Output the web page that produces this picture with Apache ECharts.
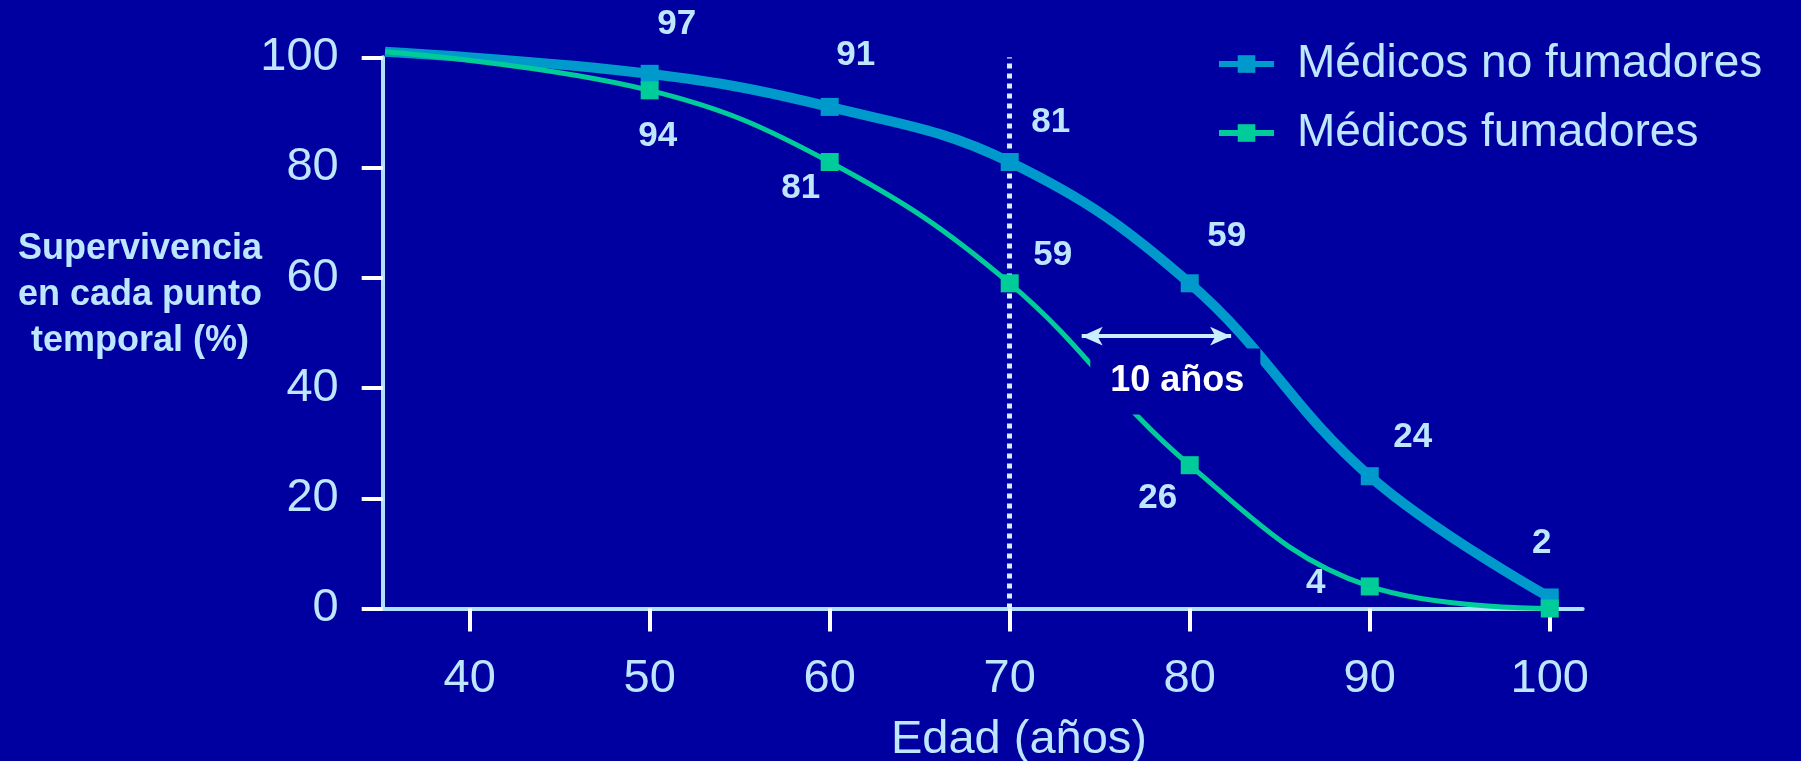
<!DOCTYPE html>
<html>
<head>
<meta charset="utf-8">
<script src="https://cdn.jsdelivr.net/npm/echarts@6/dist/echarts.min.js"></script>
<style>
  html, body { margin: 0; padding: 0; background: #0000A0; }
  #chart { width: 1801px; height: 761px; }
</style>
</head>
<body>
<div id="chart"></div>
<script>
// Supervivencia por edad: médicos no fumadores frente a fumadores
const edades = [50, 60, 70, 80, 90, 100];
const noFumadores = [97, 91, 81, 59, 24, 2];
const fumadores = [94, 81, 59, 26, 4, 0];
const origen = [35.3, 101];           // punto común de partida de ambas curvas
const edadTicks = [40, 50, 60, 70, 80, 90, 100];
const edadLimites = [35.17, 101.83];
const edadCorte = 70;                 // línea punteada vertical
const flechaDesde = [74.0, 49.4];
const flechaHasta = [82.3, 49.4];
const rotuloPos = [79.2, 41.2];
const rotuloTexto = '10 años';
const nombres = ['Médicos no fumadores', 'Médicos fumadores'];

// desplazamiento (px) de cada etiqueta respecto a su marcador
const offsetsNo = [[27, -49], [26, -52], [41, -40], [37, -47], [43, -39], [-8, -54]];
const offsetsSi = [[8, 46], [-29, 26], [43, -28], [-32, 33], [-54, -3], null];

const FONT = '"Liberation Sans", Arial, Helvetica, sans-serif';
const TEXT = '#BDE6FF';
const FONDO = '#0000A0';
const AZUL = '#0099CC';
const VERDE = '#00CC99';
const SUAVIZADO = 0.4;

function serie(valores, offsets) {
  const pts = [{ value: origen, symbol: 'none', label: { show: false } }];
  edades.forEach((e, i) => {
    const off = offsets[i];
    pts.push({
      value: [e, valores[i]],
      label: off ? { show: true, offset: off } : { show: false }
    });
  });
  return pts;
}

const etiquetaValor = {
  show: true,
  position: 'inside',
  formatter: p => String(p.value[1]),
  color: TEXT,
  fontFamily: FONT,
  fontWeight: 'bold',
  fontSize: 35
};

const chart = echarts.init(document.getElementById('chart'), null, { renderer: 'canvas' });

chart.setOption({
  backgroundColor: FONDO,
  animation: false,
  textStyle: { fontFamily: FONT },
  grid: { left: 382.7, right: 218.3, top: 57.3, bottom: 152.5, containLabel: false },
  legend: {
    orient: 'vertical',
    left: 1211,
    top: 36,
    padding: 5,
    itemWidth: 55,
    itemHeight: 22,
    itemGap: 23,
    data: nombres,
    lineStyle: { width: 6 },
    textStyle: { color: TEXT, fontSize: 46, fontFamily: FONT, padding: [0, 0, 0, 18] }
  },
  xAxis: {
    type: 'value',
    min: edadLimites[0],
    max: edadLimites[1],
    splitLine: { show: false },
    axisLine: { show: true, onZero: false, lineStyle: { color: '#B0E0FF', width: 4 } },
    axisTick: { show: true, customValues: edadTicks, length: 23, lineStyle: { color: '#FFFFFF', width: 4 } },
    axisLabel: { customValues: edadTicks, margin: 47, color: TEXT, fontSize: 47, fontFamily: FONT }
  },
  yAxis: {
    type: 'value',
    min: 0,
    max: 100,
    interval: 20,
    splitLine: { show: false },
    axisLine: { show: true, lineStyle: { color: '#B0E0FF', width: 4 } },
    axisTick: { show: true, length: 21, lineStyle: { color: '#FFFFFF', width: 4 } },
    axisLabel: { margin: 44, color: TEXT, fontSize: 47, fontFamily: FONT }
  },
  graphic: [
    {
      type: 'text',
      x: 140,
      y: 295,
      style: {
        text: 'Supervivencia\nen cada punto\ntemporal (%)',
        align: 'center',
        verticalAlign: 'middle',
        fill: TEXT,
        font: 'bold 36px ' + FONT,
        lineHeight: 46
      }
    },
    {
      type: 'text',
      x: 1019,
      y: 740,
      style: {
        text: 'Edad (años)',
        align: 'center',
        verticalAlign: 'middle',
        fill: TEXT,
        font: '47px ' + FONT
      }
    }
  ],
  series: [
    {
      name: nombres[0],
      type: 'line',
      smooth: SUAVIZADO,
      clip: false,
      z: 3,
      symbol: 'rect',
      symbolSize: 18,
      showAllSymbol: true,
      itemStyle: { color: AZUL },
      lineStyle: { color: AZUL, width: 10 },
      label: etiquetaValor,
      data: serie(noFumadores, offsetsNo),
      markLine: {
        silent: true,
        z: 1,
        symbol: 'none',
        label: { show: false },
        lineStyle: { color: '#D6F0FF', width: 5, type: [5, 5] },
        data: [{ xAxis: edadCorte }]
      }
    },
    {
      name: nombres[1],
      type: 'line',
      smooth: SUAVIZADO,
      clip: false,
      z: 4,
      symbol: 'rect',
      symbolSize: 18,
      showAllSymbol: true,
      itemStyle: { color: VERDE },
      lineStyle: { color: VERDE, width: 5 },
      label: etiquetaValor,
      data: serie(fumadores, offsetsSi)
    },
    {
      name: 'rotulo',
      type: 'scatter',
      z: 10,
      silent: true,
      symbolSize: 1,
      itemStyle: { color: FONDO, opacity: 1 },
      label: {
        show: true,
        position: 'inside',
        formatter: rotuloTexto,
        color: '#FFFFFF',
        opacity: 1,
        fontFamily: FONT,
        fontWeight: 'bold',
        fontSize: 36,
        backgroundColor: FONDO,
        padding: [15, 16, 15, 20]
      },
      data: [rotuloPos],
      markLine: {
        silent: true,
        symbol: ['arrow', 'arrow'],
        symbolSize: [14, 21],
        label: { show: false },
        lineStyle: { color: '#C8EEFF', width: 4, type: 'solid' },
        data: [[{ coord: flechaDesde }, { coord: flechaHasta }]]
      }
    }
  ]
});
</script>
</body>
</html>
